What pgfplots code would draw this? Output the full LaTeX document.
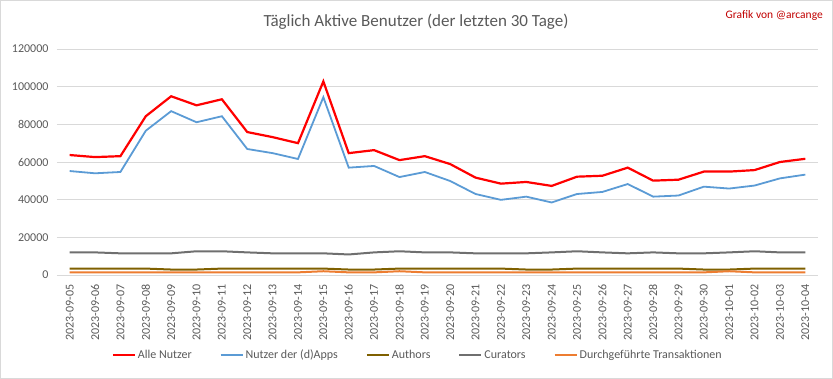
\documentclass[border=0pt]{standalone}
\usepackage{pgfplots}
\pgfplotsset{compat=1.18}
\usepackage{pgfplotstable}
\usepackage{fontspec}
\setmainfont{Carlito}
\definecolor{cRed}{HTML}{FF0000}
\definecolor{cBlue}{HTML}{5B9BD5}
\definecolor{cAuth}{HTML}{7F6000}
\definecolor{cCur}{HTML}{6F6F6F}
\definecolor{cTx}{HTML}{ED7D31}
\definecolor{cTxt}{HTML}{595959}
\definecolor{cGrid}{HTML}{D9D9D9}
\definecolor{cMark}{HTML}{C00000}

\pgfplotstableread{
x alle dapps authors curators tx
0  63700 55200 3400 12000 1400
1  62600 54000 3400 12000 1400
2  63100 54700 3400 11500 1400
3  84300 76600 3400 11500 1400
4  94900 87000 2900 11500 1400
5  90100 81100 2900 12600 1400
6  93300 84300 3400 12600 1400
7  75900 66900 3400 12000 1400
8  73200 64700 3400 11500 1400
9  70000 61600 3400 11500 1400
10 102800 94400 3400 11500 2000
11 64700 57000 2900 10900 1400
12 66300 57900 2900 12000 1400
13 61000 52000 3400 12600 2000
14 63100 54700 3400 12000 1400
15 58900 49900 3400 12000 1400
16 51700 43000 3400 11500 1400
17 48500 39900 3400 11500 1400
18 49400 41600 2900 11500 1400
19 47300 38500 2900 12000 1400
20 52200 43000 3400 12600 1400
21 52700 44100 3400 12000 1400
22 57000 48300 3400 11500 1400
23 50100 41600 3400 12000 1400
24 50600 42200 3400 11500 1400
25 54900 46900 2900 11500 1400
26 54900 45900 2900 12000 2000
27 55700 47500 3400 12600 1400
28 60000 51300 3400 12000 1400
29 61700 53300 3400 12000 1400
}\datatable

\begin{document}
\begin{tikzpicture}
\path[use as bounding box] (0pt,0pt) rectangle (833pt,379pt);
\draw[cGrid, line width=0.8pt] (0.5pt,0.5pt) rectangle (832.5pt,378.5pt);
\node[text=cTxt, font=\fontsize{17}{20}\selectfont, anchor=center] at (416pt,357pt) {Täglich Aktive Benutzer (der letzten 30 Tage)};
\node[text=cMark, font=\fontsize{11.5}{13}\selectfont, anchor=east, inner sep=0pt] at (823pt,363pt) {Grafik von @arcange};
\begin{axis}[
  at={(57pt,104pt)}, anchor=south west,
  scale only axis, width=761pt, height=226pt,
  xmin=-0.5, xmax=29.5, ymin=0, ymax=120000,
  ytick={0,20000,...,120000},
  xtick={0,...,29},
  xticklabels={2023-09-05,2023-09-06,2023-09-07,2023-09-08,2023-09-09,2023-09-10,2023-09-11,2023-09-12,2023-09-13,2023-09-14,2023-09-15,2023-09-16,2023-09-17,2023-09-18,2023-09-19,2023-09-20,2023-09-21,2023-09-22,2023-09-23,2023-09-24,2023-09-25,2023-09-26,2023-09-27,2023-09-28,2023-09-29,2023-09-30,2023-10-01,2023-10-02,2023-10-03,2023-10-04},
  x tick label style={rotate=90, anchor=east, xshift=-6pt, font=\fontsize{12}{14}\selectfont, text=cTxt},
  y tick label style={font=\fontsize{12}{14}\selectfont, text=cTxt, xshift=-5pt},
  /pgf/number format/assume math mode=true,
  scaled y ticks=false,
  yticklabel={\pgfmathprintnumber[fixed, 1000 sep={}]{\tick}},
  ymajorgrids, grid style={cGrid, line width=0.8pt},
  axis line style={draw=none},
  axis x line*=bottom, axis y line*=left,
  major tick length=0pt,
  legend columns=5,
  legend style={at={(0.474,-0.354)}, anchor=center, draw=none, fill=none,
    font=\fontsize{12}{14}\selectfont, text=cTxt,
    nodes={inner xsep=2pt},
    /tikz/every even column/.append style={column sep=26pt}},
  legend image code/.code={\draw[#1] (0pt,0pt) -- (22pt,0pt);},
  legend cell align=left,
]
\draw[cGrid, line width=0.8pt] (axis cs:-0.5,0) -- (axis cs:29.5,0);
\addplot[cRed, line width=2.2pt] table[x=x, y=alle] {\datatable};
\addlegendentry{Alle Nutzer}
\addplot[cBlue, line width=1.8pt] table[x=x, y=dapps] {\datatable};
\addlegendentry{Nutzer der (d)Apps}
\addplot[cAuth, line width=2pt] table[x=x, y=authors] {\datatable};
\addlegendentry{Authors}
\addplot[cCur, line width=2pt] table[x=x, y=curators] {\datatable};
\addlegendentry{Curators}
\addplot[cTx, line width=2pt] table[x=x, y=tx] {\datatable};
\addlegendentry{Durchgeführte Transaktionen}
\end{axis}
\end{tikzpicture}
\end{document}
